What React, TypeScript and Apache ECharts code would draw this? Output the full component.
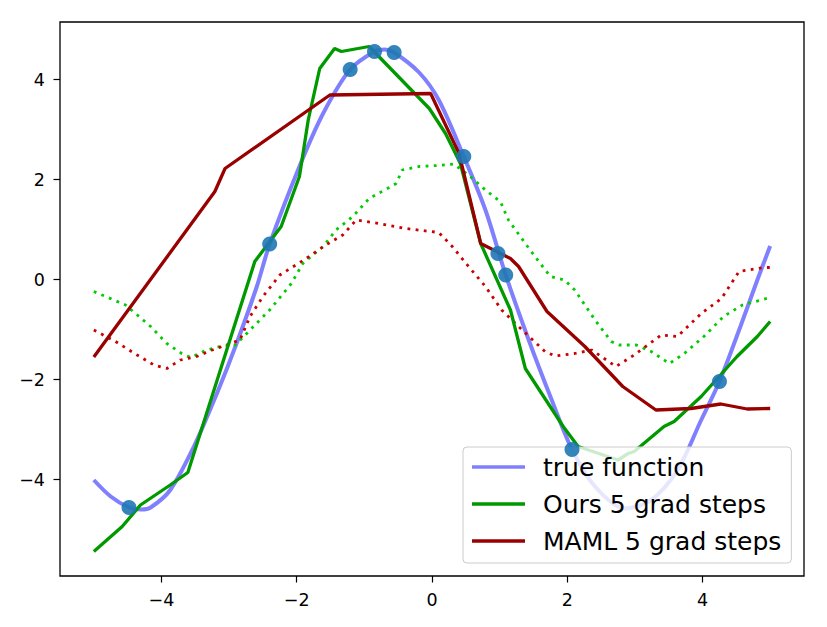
import React, { useEffect, useRef } from "react";
import * as echarts from "echarts";

const xTicks = [-4, -2, 0, 2, 4];
const yTicks = [-4, -2, 0, 2, 4];

const trueFunction: [number, number][] = [
  [-5.0, -4.01], [-4.75, -4.34], [-4.48, -4.56], [-4.3, -4.6], [-4.16, -4.56],
  [-3.87, -4.21], [-3.52, -3.34], [-3.18, -2.28], [-2.89, -1.28], [-2.59, -0.14],
  [-2.4, 0.71], [-1.96, 2.26], [-1.61, 3.32], [-1.21, 4.2], [-0.85, 4.56],
  [-0.7, 4.6], [-0.56, 4.54], [-0.19, 4.14], [0.1, 3.59], [0.47, 2.46],
  [0.79, 1.39], [1.09, 0.09], [1.43, -1.21], [1.77, -2.41], [2.07, -3.4],
  [2.41, -4.14], [2.85, -4.58], [3.24, -4.41], [3.63, -3.81], [3.98, -2.81],
  [4.25, -2.04], [4.56, -0.94], [4.81, -0.01], [5.0, 0.67],
];

const oursSteps: [number, number][] = [
  [-5, -5.44], [-4.58, -4.94], [-4.31, -4.51], [-3.87, -4.11], [-3.61, -3.86],
  [-2.62, 0.36], [-2.23, 1.06], [-1.96, 2.06], [-1.83, 3.19], [-1.66, 4.22],
  [-1.44, 4.62], [-1.34, 4.56], [-0.93, 4.66], [-0.04, 3.42], [0.2, 2.92],
  [0.42, 2.32], [0.72, 0.72], [1.16, -0.61], [1.38, -1.78], [1.94, -2.94],
  [2.16, -3.34], [2.75, -3.61], [2.9, -3.48], [2.99, -3.44], [3.43, -2.94],
  [3.58, -2.84], [3.98, -2.34], [4.51, -1.54], [4.81, -1.14], [5, -0.84],
];

const mamlSteps: [number, number][] = [
  [-5, -1.55], [-3.21, 1.76], [-3.06, 2.22], [-1.51, 3.69], [-0.02, 3.72],
  [0.4, 2.52], [0.72, 0.72], [1.16, 0.42], [1.28, 0.26], [1.7, -0.64],
  [2.26, -1.34], [2.82, -2.14], [3.31, -2.61], [3.83, -2.58], [4.27, -2.49],
  [4.66, -2.59], [5, -2.58],
];

const oursPrior: [number, number][] = [
  [-5, -0.24], [-4.53, -0.51], [-4.16, -0.94], [-3.92, -1.28], [-3.7, -1.48],
  [-3.57, -1.56], [-3.33, -1.41], [-3.13, -1.34], [-2.91, -1.31], [-2.74, -1.08],
  [-2.4, -0.61], [-2.08, -0.08], [-1.91, 0.32], [-1.61, 0.66], [-1.42, 0.99],
  [-1.17, 1.26], [-0.93, 1.62], [-0.66, 1.82], [-0.53, 1.92], [-0.44, 2.19],
  [-0.19, 2.26], [0.08, 2.28], [0.32, 2.31], [0.54, 2.09], [0.79, 1.79],
  [1.01, 1.56], [1.13, 1.19], [1.38, 0.72], [1.6, 0.32], [1.75, 0.06],
  [1.96, -0.01], [2.11, -0.21], [2.41, -0.81], [2.65, -1.24], [2.77, -1.31],
  [3.02, -1.31], [3.24, -1.44], [3.51, -1.68], [3.73, -1.48], [4.02, -1.14],
  [4.31, -0.74], [4.59, -0.51], [5, -0.36],
];

const mamlPrior: [number, number][] = [
  [-5, -1.01], [-4.68, -1.24], [-4.36, -1.51], [-4.11, -1.71], [-3.92, -1.78],
  [-3.72, -1.61], [-3.48, -1.54], [-3.25, -1.41], [-3.04, -1.31], [-2.84, -1.21],
  [-2.69, -0.74], [-2.5, -0.34], [-2.25, 0.09], [-1.86, 0.42], [-1.57, 0.69],
  [-1.32, 0.89], [-1.12, 1.19], [-0.78, 1.12], [-0.39, 1.02], [0.1, 0.94],
  [0.3, 0.66], [0.54, 0.26], [0.79, -0.14], [1.03, -0.61], [1.28, -0.94],
  [1.67, -1.44], [1.82, -1.53], [2.11, -1.48], [2.36, -1.41], [2.72, -1.74],
  [2.99, -1.51], [3.39, -1.11], [3.63, -1.14], [3.98, -0.68], [4.28, -0.38],
  [4.54, 0.16], [4.91, 0.24], [5, 0.24],
];

const samplePoints: [number, number][] = [
  [-4.48, -4.56], [-2.4, 0.71], [-1.21, 4.2], [-0.85, 4.56], [-0.56, 4.54],
  [0.47, 2.46], [0.975, 0.52], [1.09, 0.09], [2.07, -3.4], [4.25, -2.04],
];

const FONT = "DejaVu Sans";
const fmt = (v: number) => String(v).replace("-", "\u2212");

export default function App() {
  const ref = useRef<HTMLDivElement>(null);
  useEffect(() => {
    const chart = echarts.init(ref.current!, null, { renderer: "svg" });
    chart.setOption({
      animation: false,
      backgroundColor: "#ffffff",
      grid: {
        left: 60,
        right: 23,
        top: 22,
        bottom: 51,
        show: true,
        borderColor: "#000000",
        borderWidth: 1.3,
        backgroundColor: "transparent",
      },
      xAxis: {
        type: "value",
        min: -5.5,
        max: 5.5,
        axisLine: { show: false, onZero: false },
        splitLine: { show: false },
        axisTick: {
          show: true,
          length: 6.5,
          lineStyle: { color: "#000", width: 1.2 },
          customValues: xTicks,
        },
        axisLabel: {
          customValues: xTicks,
          formatter: fmt,
          color: "#000",
          fontFamily: FONT,
          fontSize: 17.5,
          margin: 15,
        },
      },
      yAxis: {
        type: "value",
        min: -5.93,
        max: 5.15,
        axisLine: { show: false, onZero: false },
        splitLine: { show: false },
        axisTick: {
          show: true,
          length: 6.5,
          lineStyle: { color: "#000", width: 1.2 },
          customValues: yTicks,
        },
        axisLabel: {
          customValues: yTicks,
          formatter: fmt,
          color: "#000",
          fontFamily: FONT,
          fontSize: 17.5,
          margin: 15,
        },
      },
      legend: {
        data: ["true function", "Ours 5 grad steps", "MAML 5 grad steps"],
        orient: "vertical",
        left: 463,
        top: 447,
        icon: "rect",
        itemWidth: 53,
        itemHeight: 3.5,
        itemGap: 11,
        padding: [7, 10, 9, 9],
        backgroundColor: "rgba(255,255,255,0.8)",
        borderColor: "#cccccc",
        borderWidth: 1,
        borderRadius: 4,
        selectedMode: false,
        textStyle: {
          fontFamily: FONT,
          fontSize: 25,
          lineHeight: 26,
          color: "#000",
          padding: [0, 0, 0, 13],
        },
      },
      series: [
        {
          name: "true function",
          type: "line",
          data: trueFunction,
          smooth: 0.3,
          symbol: "none",
          lineStyle: { color: "#8080ff", width: 4 },
          itemStyle: { color: "#8080ff" },
          z: 1,
        },
        {
          name: "ours prior",
          type: "line",
          data: oursPrior,
          symbol: "none",
          lineStyle: { color: "#00cc00", width: 2.8, type: [2.8, 5.4] },
          itemStyle: { color: "#00cc00" },
          z: 2,
        },
        {
          name: "maml prior",
          type: "line",
          data: mamlPrior,
          symbol: "none",
          lineStyle: { color: "#cc0000", width: 2.8, type: [2.8, 5.4] },
          itemStyle: { color: "#cc0000" },
          z: 2,
        },
        {
          name: "Ours 5 grad steps",
          type: "line",
          data: oursSteps,
          symbol: "none",
          lineStyle: { color: "#009900", width: 3.3 },
          itemStyle: { color: "#009900" },
          z: 3,
        },
        {
          name: "MAML 5 grad steps",
          type: "line",
          data: mamlSteps,
          symbol: "none",
          lineStyle: { color: "#990000", width: 3.3 },
          itemStyle: { color: "#990000" },
          z: 3,
        },
        {
          name: "samples",
          type: "scatter",
          data: samplePoints,
          symbolSize: 15,
          itemStyle: { color: "#1f77b4", opacity: 0.9 },
          z: 4,
        },
      ],
    });
    return () => chart.dispose();
  }, []);
  return (
    <div
      ref={ref}
      style={{ position: "fixed", left: 0, top: 0, width: 827, height: 627 }}
    />
  );
}
